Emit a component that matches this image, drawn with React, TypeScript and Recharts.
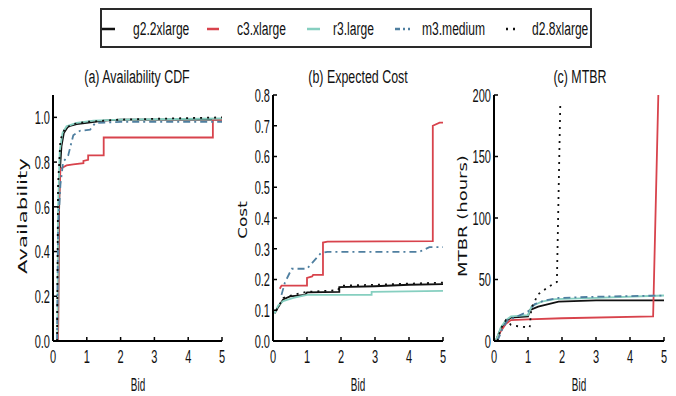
import React from 'react';
import { LineChart, Line, XAxis, YAxis } from 'recharts';

type Pt = [number, number];

// ---------- labels / ticks ----------
const seriesNames = ['g2.2xlarge', 'c3.xlarge', 'r3.large', 'm3.medium', 'd2.8xlarge'];
const panelTitles = ['(a) Availability CDF', '(b) Expected Cost', '(c) MTBR'];
const yLabels = ['Availability', 'Cost', 'MTBR (hours)'];
const xLabel = 'Bid';
const bidTicks = [0, 1, 2, 3, 4, 5];
const availTicks = [0, 0.2, 0.4, 0.6, 0.8, 1.0];
const costTicks = [0, 0.1, 0.2, 0.3, 0.4, 0.5, 0.6, 0.7, 0.8];
const mtbrTicks = [0, 50, 100, 150, 200];

// ---------- (a) Availability CDF: [bid, availability] ----------
const availG2: Pt[] = [[0.15, 0], [0.17, 0.5], [0.2, 0.75], [0.25, 0.87], [0.32, 0.93], [0.45, 0.96], [0.7, 0.97], [1.0, 0.975], [1.5, 0.985], [2, 0.99], [5, 0.99]];
const availC3: Pt[] = [[0.15, 0], [0.17, 0.6], [0.22, 0.77], [0.4, 0.785], [0.6, 0.79], [0.9, 0.795], [0.9, 0.805], [1.04, 0.81], [1.04, 0.83], [1.5, 0.83], [1.5, 0.91], [4.73, 0.91], [4.73, 0.99], [5, 0.99]];
const availR3: Pt[] = [[0.13, 0], [0.15, 0.6], [0.2, 0.85], [0.28, 0.93], [0.4, 0.96], [0.7, 0.975], [1.2, 0.985], [2, 0.99], [5, 0.995]];
const availM3: Pt[] = [[0.12, 0], [0.15, 0.5], [0.22, 0.7], [0.3, 0.8], [0.45, 0.83], [0.6, 0.92], [0.8, 0.94], [1.1, 0.945], [1.25, 0.975], [2, 0.98], [5, 0.98]];
const availD2: Pt[] = [[0.12, 0], [0.15, 0.7], [0.22, 0.9], [0.35, 0.95], [0.6, 0.97], [1, 0.98], [2, 0.99], [5, 1.0]];

// ---------- (b) Expected Cost: [bid, cost] ----------
const costG2: Pt[] = [[0.05, 0.09], [0.15, 0.11], [0.3, 0.135], [0.5, 0.145], [0.95, 0.15], [1.0, 0.158], [1.95, 0.16], [1.95, 0.175], [3, 0.178], [4, 0.183], [5, 0.185]];
const costC3: Pt[] = [[0.2, 0.17], [0.25, 0.18], [1.0, 0.18], [1.0, 0.205], [1.15, 0.21], [1.18, 0.215], [1.47, 0.215], [1.47, 0.32], [1.6, 0.323], [4.7, 0.325], [4.7, 0.70], [4.9, 0.71], [5, 0.71]];
const costR3: Pt[] = [[0.05, 0.09], [0.15, 0.115], [0.3, 0.13], [0.6, 0.14], [1.0, 0.15], [2.9, 0.15], [2.9, 0.16], [5, 0.163]];
const costM3: Pt[] = [[0.25, 0.15], [0.35, 0.19], [0.55, 0.235], [1.0, 0.235], [1.4, 0.285], [1.6, 0.29], [4.3, 0.29], [4.6, 0.305], [5, 0.305]];
const costD2: Pt[] = [[0.1, 0.1], [0.3, 0.14], [0.6, 0.15], [1.0, 0.16], [1.9, 0.165], [2, 0.18], [3, 0.183], [5, 0.19]];

// ---------- (c) MTBR: [bid, hours] ----------
const mtbrG2: Pt[] = [[0.05, 0], [0.2, 10], [0.35, 16], [0.5, 19], [1.0, 20], [1.05, 25], [1.3, 28], [1.6, 30], [1.9, 32], [3, 33], [5, 33]];
const mtbrC3: Pt[] = [[0.05, 0], [0.2, 8], [0.35, 14], [0.5, 17], [1, 17.5], [2, 18.5], [4.68, 20], [4.85, 220], [5, 220]];
const mtbrR3: Pt[] = [[0.05, 0], [0.2, 11], [0.35, 17], [0.5, 20], [1.0, 21], [1.1, 28], [1.4, 32], [1.8, 34], [3, 35], [5, 37]];
const mtbrM3: Pt[] = [[0.1, 0], [0.25, 10], [0.4, 17], [0.6, 19], [1.0, 24], [1.2, 30], [1.5, 33], [1.9, 35], [3, 36], [5, 37]];
const mtbrD2: Pt[] = [[0.1, 0], [0.2, 10], [0.35, 17], [0.5, 13], [0.7, 12], [1.05, 11], [1.1, 27], [1.3, 38], [1.6, 44], [1.85, 48], [1.95, 193]];

// ---------- styles ----------
const SANS = "'Liberation Sans', Arial, sans-serif";
const WIDE = "'DejaVu Sans', 'Liberation Sans', sans-serif";

const lineStyles: Record<string, { stroke: string; dash?: string; width: number }> = {
  'g2.2xlarge': { stroke: '#111111', width: 1.8 },
  'c3.xlarge': { stroke: '#d8434c', width: 1.8 },
  'r3.large': { stroke: '#86cfc0', width: 1.8 },
  'm3.medium': { stroke: '#4f7fa0', dash: '7 4 2 4', width: 1.8 },
  'd2.8xlarge': { stroke: '#111111', dash: '2 5', width: 1.8 },
};

const toRows = (pts: Pt[]) => pts.map(([x, y]) => ({ x, y }));

type PanelProps = {
  left: number;
  width: number;
  yAxisWidth: number;
  rightMargin: number;
  yDomain: [number, number];
  yTicks: number[];
  fmt: (v: number) => string;
  series: Pt[][];
};

const EmptyTick = () => <g />;
const TICK_FONT = 19;
const TICK_SQUEEZE = 0.58;

function makeTick(anchor: 'middle' | 'end', dy: string, fmt: (v: number) => string) {
  return (props: any) => {
    const { x, y, payload } = props;
    return (
      <text x={x} y={y} dy={dy} textAnchor={anchor} fill="#111" fontSize={TICK_FONT} fontFamily={SANS}
        transform={`translate(${x} ${y}) scale(${TICK_SQUEEZE} 1) translate(${-x} ${-y})`}>
        {fmt(payload.value)}
      </text>
    );
  };
}

function Panel({ left, width, yAxisWidth, rightMargin, yDomain, yTicks, fmt, series }: PanelProps) {
  const tickLine = { stroke: '#000', strokeWidth: 1.5 };
  return (
    <div style={{ position: 'absolute', left, top: 0 }}>
      <LineChart width={width} height={396} margin={{ top: 95, right: rightMargin, bottom: 25, left: 0 }}>
        <XAxis xAxisId="b" dataKey="x" type="number" domain={[0, 5]} ticks={bidTicks} interval={0}
          allowDataOverflow height={30} tickSize={-4} tickMargin={13} stroke="#000" strokeWidth={2}
          tick={makeTick('middle', '0.71em', (v) => String(v))} tickLine={tickLine} />
        <XAxis xAxisId="t" orientation="top" type="number" domain={[0, 5]} ticks={bidTicks} interval={0}
          allowDataOverflow height={0} tickSize={-4} stroke="#000" strokeWidth={2}
          tick={EmptyTick} tickLine={tickLine} />
        <YAxis yAxisId="l" type="number" domain={yDomain} ticks={yTicks} interval={0} allowDataOverflow
          width={yAxisWidth} tickSize={-4} tickMargin={7} stroke="#000" strokeWidth={2}
          tick={makeTick('end', '0.36em', fmt)} tickLine={tickLine} />
        <YAxis yAxisId="r" orientation="right" type="number" domain={yDomain} ticks={yTicks} interval={0}
          allowDataOverflow width={0} tickSize={-4} stroke="#000" strokeWidth={2}
          tick={EmptyTick} tickLine={tickLine} />
        {series.map((pts, i) => {
          const name = seriesNames[i];
          const st = lineStyles[name];
          return (
            <Line key={name} name={name} xAxisId="b" yAxisId="l" data={toRows(pts)} dataKey="y"
              type="linear" dot={false} activeDot={false} isAnimationActive={false}
              stroke={st.stroke} strokeWidth={st.width} strokeDasharray={st.dash} />
          );
        })}
      </LineChart>
    </div>
  );
}

function Squeezed({ text, x, y, size, squeeze }: { text: string; x: number; y: number; size: number; squeeze: number }) {
  return (
    <div style={{
      position: 'absolute', left: x, top: y, fontFamily: SANS, fontSize: size, color: '#111', whiteSpace: 'nowrap',
      lineHeight: 1, transform: `translate(-50%, -50%) scaleX(${squeeze})`,
    }}>{text}</div>
  );
}

function YLabel({ text, x, y, stretch }: { text: string; x: number; y: number; stretch: number }) {
  return (
    <div style={{
      position: 'absolute', left: x, top: y, fontFamily: WIDE, fontSize: 12.5, color: '#111',
      whiteSpace: 'nowrap', lineHeight: 1,
      transform: `translate(-50%, -50%) rotate(-90deg) scaleX(${stretch})`,
    }}>{text}</div>
  );
}

function Legend() {
  const items = [
    { sx: 102, sw: 13, tx: 133 },
    { sx: 207, sw: 12, tx: 237 },
    { sx: 307, sw: 13, tx: 333 },
    { sx: 395, sw: 15, tx: 422 },
    { sx: 506, sw: 12, tx: 532 },
  ];
  return (
    <div style={{ position: 'absolute', left: 100, top: 8, width: 488, height: 36, border: '2px solid #2a2a2a', background: '#fff' }}>
      {seriesNames.map((name, i) => {
        const it = items[i];
        const st = lineStyles[name];
        return (
          <React.Fragment key={name}>
            <svg style={{ position: 'absolute', left: it.sx - 102, top: 16 }} width={it.sw} height={6}>
              <line x1={0} y1={3} x2={it.sw} y2={3} stroke={st.stroke} strokeWidth={2.5}
                strokeDasharray={name === 'm3.medium' ? '5 3 2 3' : name === 'd2.8xlarge' ? '2 5' : undefined} />
            </svg>
            <div style={{
              position: 'absolute', left: it.tx - 102, top: 19, transform: 'translateY(-50%) scaleX(0.67)',
              transformOrigin: 'left center', fontFamily: SANS, fontSize: 18, color: '#111', whiteSpace: 'nowrap', lineHeight: 1,
            }}>{name}</div>
          </React.Fragment>
        );
      })}
    </div>
  );
}

export default function App() {
  return (
    <div style={{ position: 'absolute', left: 0, top: 0, width: 676, height: 396, background: '#fff', overflow: 'hidden' }}>
      <Legend />
      <Panel left={0} width={230} yAxisWidth={53} rightMargin={8} yDomain={[0, 1.1]} yTicks={availTicks}
        fmt={(v) => v.toFixed(1)} series={[availG2, availC3, availR3, availM3, availD2]} />
      <Panel left={230} width={220} yAxisWidth={43} rightMargin={7} yDomain={[0, 0.8]} yTicks={costTicks}
        fmt={(v) => v.toFixed(1)} series={[costG2, costC3, costR3, costM3, costD2]} />
      <Panel left={450} width={226} yAxisWidth={44} rightMargin={12} yDomain={[0, 200]} yTicks={mtbrTicks}
        fmt={(v) => String(v)} series={[mtbrG2, mtbrC3, mtbrR3, mtbrM3, mtbrD2]} />
      <Squeezed text={panelTitles[0]} x={137} y={77} size={18} squeeze={0.69} />
      <Squeezed text={panelTitles[1]} x={358} y={77} size={18} squeeze={0.69} />
      <Squeezed text={panelTitles[2]} x={580} y={77} size={18} squeeze={0.69} />
      <Squeezed text={xLabel} x={138} y={385} size={18} squeeze={0.55} />
      <Squeezed text={xLabel} x={358} y={385} size={18} squeeze={0.55} />
      <Squeezed text={xLabel} x={579} y={385} size={18} squeeze={0.55} />
      <YLabel text={yLabels[0]} x={23} y={216} stretch={1.7} />
      <YLabel text={yLabels[1]} x={243} y={220} stretch={1.35} />
      <YLabel text={yLabels[2]} x={463} y={216} stretch={1.44} />
    </div>
  );
}
